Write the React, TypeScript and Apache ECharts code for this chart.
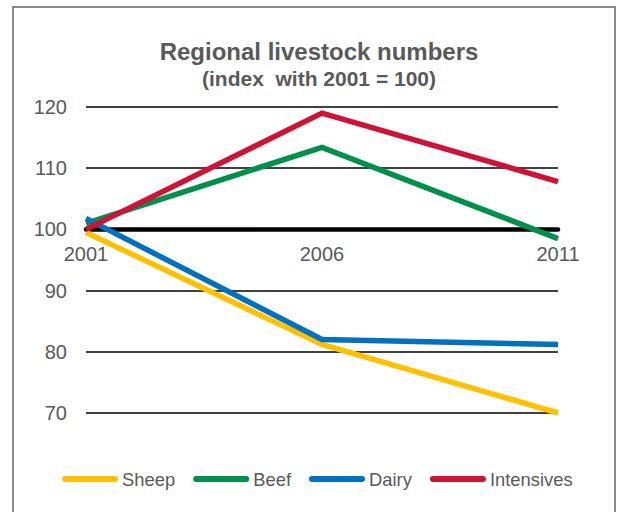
import React, { useEffect, useRef } from "react";
import * as echarts from "echarts";

const years = ["2001", "2006", "2011"];
const sheep = [99.5, 81.2, 70.0];
const beef = [101.0, 113.4, 98.5];
const dairy = [101.8, 82.0, 81.2];
const intensives = [100.0, 119.0, 107.8];
const yTicks = { min: 70, max: 120, interval: 10 };
const baseLine = 100;

const FONT = "'Liberation Sans', Arial, sans-serif";
const GRAY = "#595959";

export default function App() {
  const ref = useRef<HTMLDivElement>(null);
  useEffect(() => {
    if (!ref.current) return;
    const chart = echarts.init(ref.current, null, { renderer: "svg" });
    const gridTop = 107;
    const gridBottom = 99;
    const gridHeight = 512 - gridTop - gridBottom;
    const axisOffset = -(gridHeight * (baseLine - yTicks.min)) / (yTicks.max - yTicks.min);
    const mk = (name: string, data: number[], color: string) => ({
      name,
      type: "line",
      data,
      symbol: "none",
      lineStyle: { color, width: 5.5, join: "miter", cap: "butt" },
      itemStyle: { color },
    });
    chart.setOption({
      animation: false,
      textStyle: { fontFamily: FONT },
      title: [
        {
          text: "Regional livestock numbers",
          left: 314,
          top: 34,
          textAlign: "center",
          textStyle: { fontFamily: FONT, fontSize: 24, fontWeight: "bold", color: GRAY },
        },
        {
          text: "(index  with 2001 = 100)",
          left: 314,
          top: 63,
          textAlign: "center",
          textStyle: { fontFamily: FONT, fontSize: 21, fontWeight: "bold", color: GRAY },
        },
      ],
      graphic: [
        {
          type: "rect",
          shape: { x: 13, y: 7, width: 602, height: 530 },
          style: { fill: "none", stroke: "#8a8a8a", lineWidth: 2 },
          silent: true,
        },
      ],
      legend: {
        left: 57,
        top: 465,
        itemWidth: 56,
        itemHeight: 6,
        itemGap: 18,
        icon: "path://M3,0 H53 A3,3 0 0 1 53,6 H3 A3,3 0 0 1 3,0 Z",
        textStyle: { fontFamily: FONT, fontSize: 18.4, color: GRAY, padding: [0, 0, 0, -1] },
        data: ["Sheep", "Beef", "Dairy", "Intensives"],
      },
      grid: { left: 86, right: 59, top: gridTop, bottom: gridBottom, containLabel: false },
      xAxis: {
        type: "category",
        data: years,
        boundaryGap: false,
        offset: axisOffset,
        axisLine: { show: true, lineStyle: { color: "#000", width: 4.5 } },
        axisTick: { show: false },
        axisLabel: { color: GRAY, fontSize: 20, fontFamily: FONT, margin: 15 },
        splitLine: { show: false },
      },
      yAxis: {
        type: "value",
        min: yTicks.min,
        max: yTicks.max,
        interval: yTicks.interval,
        axisLine: { show: false },
        axisTick: { show: false },
        axisLabel: { color: GRAY, fontSize: 20, fontFamily: FONT, margin: 19 },
        splitLine: { lineStyle: { color: "#000", width: 1.5 } },
      },
      series: [
        mk("Sheep", sheep, "#FFC000"),
        mk("Beef", beef, "#00904A"),
        mk("Dairy", dairy, "#0070C0"),
        mk("Intensives", intensives, "#D01237"),
      ],
    });
    return () => chart.dispose();
  }, []);
  return (
    <div
      ref={ref}
      style={{ position: "absolute", left: 0, top: 0, width: 617, height: 512, background: "#fff" }}
    />
  );
}
